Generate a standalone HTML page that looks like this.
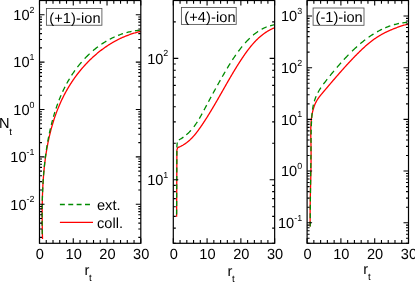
<!DOCTYPE html>
<html lang="en">
<head>
<meta charset="utf-8">
<title>N_t vs r_t</title>
<style>
html,body{margin:0;padding:0;background:#fff;}
body{width:415px;height:282px;overflow:hidden;font-family:"Liberation Sans",sans-serif;}
svg{display:block;}
</style>
</head>
<body>
<svg width="415" height="282" viewBox="0 0 415 282" font-family="'Liberation Sans', sans-serif" font-size="14.6" fill="#000">
<rect width="415" height="282" fill="#fff"/>
<g style="will-change:transform;text-rendering:geometricPrecision">
<g id="p1">
<path d="M42.50 239.00L42.48 238.20L42.47 237.39L42.45 236.59L42.43 235.79L42.42 234.99L42.40 234.19L42.38 233.39L42.37 232.59L42.35 231.79L42.34 230.99L42.33 230.19L42.31 229.38L42.30 228.58L42.29 227.78L42.28 226.98L42.26 226.18L42.25 225.38L42.24 224.58L42.23 223.78L42.23 222.98L42.22 222.17L42.21 221.37L42.20 220.57L42.20 219.77L42.19 218.97L42.19 218.17L42.18 217.37L42.18 216.57L42.18 215.77L42.18 214.96L42.18 214.16L42.18 213.36L42.18 212.56L42.18 211.76L42.18 210.96L42.19 210.16L42.19 209.36L42.20 208.55L42.21 207.75L42.22 206.95L42.22 206.15L42.23 205.35L42.25 204.55L42.26 203.75L42.27 202.95L42.29 202.15L42.30 201.35L42.32 200.54L42.34 199.74L42.36 198.94L42.38 198.14L42.40 197.34L42.42 196.54L42.45 195.74L42.47 194.94L42.50 194.14L42.53 193.34L42.56 192.54L42.59 191.74L42.62 190.94L42.66 190.13L42.69 189.33L42.73 188.53L42.77 187.73L42.81 186.93L42.85 186.13L42.89 185.33L42.94 184.53L42.98 183.73L43.03 182.93L43.08 182.13L43.13 181.33L43.18 180.54L43.24 179.74L43.29 178.94L43.35 178.14L43.41 177.34L43.47 176.54L43.53 175.74L43.60 174.94L43.66 174.14L43.73 173.35L43.80 172.55L43.87 171.75L43.95 170.95L44.02 170.15L44.10 169.36L44.18 168.56L44.26 167.76L44.35 166.97L44.43 166.17L44.52 165.37L44.61 164.58L44.70 163.78L44.80 162.99L44.89 162.19L44.99 161.39L45.09 160.60L45.19 159.81L45.30 159.01L45.41 158.22L45.52 157.42L45.63 156.63L45.74 155.84L45.86 155.04L45.98 154.25L46.10 153.46L46.22 152.67L46.35 151.88L46.47 151.09L46.60 150.30L46.74 149.51L46.87 148.72L47.01 147.93L47.15 147.14L47.30 146.35L47.44 145.56L47.59 144.78L47.74 143.99L47.90 143.20L48.05 142.42L48.21 141.63L48.37 140.85L48.54 140.06L48.71 139.28L48.88 138.50L49.05 137.71L49.22 136.93L49.40 136.15L49.59 135.37L49.77 134.59L49.96 133.81L50.15 133.03L50.34 132.26L50.54 131.48L50.74 130.70L50.94 129.93L51.15 129.16L51.35 128.38L51.57 127.61L51.78 126.84L52.00 126.07L52.22 125.30L52.45 124.53L52.67 123.76L52.90 122.99L53.14 122.23L53.38 121.46L53.62 120.70L53.86 119.93L54.11 119.17L54.36 118.41L54.61 117.65L54.87 116.89L55.13 116.14L55.40 115.38L55.67 114.62L55.94 113.87L56.21 113.12L56.49 112.37L56.77 111.62L57.06 110.87L57.35 110.12L57.64 109.38L57.94 108.63L58.24 107.89L58.54 107.15L58.85 106.41L59.16 105.67L59.48 104.93L59.80 104.20L60.12 103.46L60.44 102.73L60.77 102.00L61.11 101.27L61.44 100.55L61.79 99.82L62.13 99.10L62.48 98.38L62.83 97.66L63.19 96.94L63.55 96.23L63.91 95.51L64.28 94.80L64.65 94.09L65.03 93.38L65.41 92.68L65.79 91.97L66.18 91.27L66.57 90.57L66.97 89.88L67.37 89.18L67.77 88.49L68.18 87.80L68.59 87.11L69.00 86.43L69.42 85.74L69.84 85.06L70.27 84.38L70.70 83.71L71.13 83.03L71.57 82.36L72.01 81.70L72.46 81.03L72.91 80.37L73.36 79.70L73.82 79.05L74.28 78.39L74.74 77.74L75.21 77.09L75.68 76.44L76.15 75.79L76.63 75.15L77.12 74.51L77.60 73.88L78.09 73.24L78.59 72.61L79.08 71.98L79.59 71.36L80.09 70.74L80.60 70.12L81.11 69.50L81.63 68.89L82.15 68.28L82.67 67.67L83.20 67.07L83.73 66.47L84.26 65.87L84.80 65.28L85.34 64.69L85.88 64.10L86.43 63.51L86.99 62.93L87.54 62.36L88.10 61.78L88.66 61.21L89.23 60.65L89.80 60.08L90.37 59.52L90.95 58.97L91.53 58.42L92.12 57.87L92.70 57.32L93.29 56.78L93.89 56.25L94.49 55.71L95.09 55.18L95.69 54.66L96.30 54.14L96.91 53.62L97.53 53.11L98.15 52.60L98.77 52.10L99.40 51.60L100.03 51.10L100.66 50.61L101.30 50.12L101.93 49.64L102.58 49.16L103.22 48.69L103.87 48.22L104.53 47.75L105.18 47.29L105.84 46.84L106.50 46.39L107.17 45.94L107.84 45.50L108.51 45.06L109.18 44.63L109.86 44.20L110.54 43.78L111.23 43.37L111.92 42.96L112.61 42.55L113.30 42.15L114.00 41.75L114.70 41.36L115.40 40.98L116.11 40.60L116.81 40.23L117.53 39.86L118.24 39.49L118.96 39.14L119.68 38.78L120.40 38.44L121.12 38.10L121.85 37.76L122.58 37.43L123.32 37.11L124.05 36.79L124.79 36.48L125.53 36.18L126.27 35.88L127.02 35.59L127.77 35.30L128.52 35.02L129.27 34.74L130.03 34.47L130.78 34.21L131.54 33.96L132.30 33.71L133.07 33.46L133.83 33.23L134.60 33.00L135.37 32.77L136.14 32.56L136.91 32.35L137.69 32.14L138.46 31.94L139.24 31.75L140.02 31.57L140.80 31.39" fill="none" stroke="#ff0000" stroke-width="1.3" stroke-linejoin="round"/>
<path d="M42.25 234.15L42.24 233.32L42.23 232.50L42.22 231.67L42.21 230.85L42.20 230.02L42.19 229.20M42.15 225.78L42.15 224.95L42.14 224.13L42.14 223.30L42.13 222.48L42.13 221.65L42.12 220.83M42.12 217.41L42.12 216.58L42.12 215.76L42.12 214.93L42.13 214.11L42.13 213.28L42.14 212.46M42.17 209.04L42.18 208.21L42.19 207.39L42.20 206.56L42.21 205.74L42.23 204.91L42.24 204.09M42.31 200.67L42.33 199.84L42.36 199.02L42.38 198.19L42.40 197.37L42.43 196.54L42.45 195.72M42.58 192.30L42.61 191.47L42.64 190.65L42.68 189.82L42.72 189.00L42.76 188.17L42.80 187.35M42.98 183.93L43.02 183.10L43.07 182.28L43.12 181.45L43.17 180.63L43.23 179.80L43.28 178.98M43.53 175.56L43.59 174.72L43.66 173.88L43.73 173.04L43.79 172.20L43.87 171.36L43.94 170.52M44.27 166.99L44.35 166.15L44.44 165.31L44.53 164.46L44.61 163.62L44.71 162.78L44.80 161.94M45.20 158.51L45.30 157.68L45.41 156.85L45.52 156.03L45.62 155.20L45.74 154.37L45.85 153.54M46.34 150.11L46.47 149.28L46.60 148.45L46.72 147.62L46.86 146.79L46.99 145.97L47.13 145.14M47.72 141.71L47.87 140.88L48.02 140.05L48.18 139.22L48.34 138.39L48.50 137.56L48.66 136.74M49.36 133.30L49.54 132.47L49.72 131.65L49.90 130.82L50.09 129.99L50.27 129.16L50.47 128.34M51.29 124.90L51.49 124.09L51.70 123.28L51.91 122.47L52.12 121.66L52.33 120.85L52.55 120.04M53.46 116.76L53.69 115.95L53.93 115.15L54.17 114.34L54.41 113.54L54.65 112.74L54.90 111.94M55.99 108.57L56.27 107.74L56.55 106.91L56.84 106.09L57.13 105.26L57.42 104.44L57.72 103.62M59.03 100.16L59.36 99.32L59.70 98.48L60.04 97.64L60.39 96.81L60.74 95.97L61.09 95.14M62.64 91.68L63.02 90.86L63.41 90.05L63.80 89.24L64.20 88.43L64.60 87.62L65.01 86.82M66.73 83.56L67.17 82.75L67.62 81.94L68.08 81.14L68.54 80.34L69.01 79.55L69.48 78.76M71.59 75.39L72.05 74.68L72.52 73.97L73.00 73.26L73.48 72.56L73.96 71.87L74.45 71.17L74.94 70.48M77.48 67.07L77.97 66.44L78.47 65.81L78.97 65.18L79.48 64.56L79.99 63.94L80.50 63.33L81.02 62.72L81.54 62.11M84.66 58.66L85.25 58.03L85.86 57.40L86.46 56.78L87.08 56.17L87.69 55.56L88.32 54.95L88.94 54.35L89.58 53.75M93.02 50.67L93.72 50.09L94.41 49.51L95.12 48.93L95.83 48.37L96.54 47.81L97.26 47.25L97.99 46.71M101.40 44.27L102.09 43.81L102.79 43.35L103.49 42.89L104.20 42.45L104.91 42.00L105.62 41.57L106.34 41.14M109.75 39.24L110.56 38.82L111.37 38.40L112.18 38.00L113.00 37.61L113.82 37.22L114.65 36.84M118.01 35.43L118.83 35.11L119.66 34.80L120.48 34.49L121.32 34.20L122.15 33.92L122.99 33.64M126.51 32.61L127.34 32.39L128.17 32.18L129.01 31.98L129.84 31.79L130.68 31.61L131.52 31.44M134.93 30.85L135.75 30.73L136.57 30.62L137.39 30.52L138.21 30.42L139.04 30.34L139.86 30.27" fill="none" stroke="#008b00" stroke-width="1.3"/>
<path d="M39.5 243.3v-5.05M39.5 0.5v5.05M46.25 243.3v-3.3M46.25 0.5v3.3M53.01 243.3v-3.3M53.01 0.5v3.3M59.76 243.3v-3.3M59.76 0.5v3.3M66.51 243.3v-3.3M66.51 0.5v3.3M73.27 243.3v-5.05M73.27 0.5v5.05M80.02 243.3v-3.3M80.02 0.5v3.3M86.77 243.3v-3.3M86.77 0.5v3.3M93.53 243.3v-3.3M93.53 0.5v3.3M100.28 243.3v-3.3M100.28 0.5v3.3M107.03 243.3v-5.05M107.03 0.5v5.05M113.79 243.3v-3.3M113.79 0.5v3.3M120.54 243.3v-3.3M120.54 0.5v3.3M127.29 243.3v-3.3M127.29 0.5v3.3M134.05 243.3v-3.3M134.05 0.5v3.3M140.8 243.3v-5.05M140.8 0.5v5.05M39.5 237.38h2.5M140.8 237.38h-2.5M39.5 229.04h2.5M140.8 229.04h-2.5M39.5 223.12h2.5M140.8 223.12h-2.5M39.5 218.53h2.5M140.8 218.53h-2.5M39.5 214.78h2.5M140.8 214.78h-2.5M39.5 211.61h2.5M140.8 211.61h-2.5M39.5 208.86h2.5M140.8 208.86h-2.5M39.5 206.43h2.5M140.8 206.43h-2.5M39.5 204.27h5.0M140.8 204.27h-5.0M39.5 190h2.5M140.8 190h-2.5M39.5 181.66h2.5M140.8 181.66h-2.5M39.5 175.74h2.5M140.8 175.74h-2.5M39.5 171.15h2.5M140.8 171.15h-2.5M39.5 167.4h2.5M140.8 167.4h-2.5M39.5 164.23h2.5M140.8 164.23h-2.5M39.5 161.48h2.5M140.8 161.48h-2.5M39.5 159.06h2.5M140.8 159.06h-2.5M39.5 156.89h5.0M140.8 156.89h-5.0M39.5 142.63h2.5M140.8 142.63h-2.5M39.5 134.29h2.5M140.8 134.29h-2.5M39.5 128.37h2.5M140.8 128.37h-2.5M39.5 123.78h2.5M140.8 123.78h-2.5M39.5 120.02h2.5M140.8 120.02h-2.5M39.5 116.85h2.5M140.8 116.85h-2.5M39.5 114.11h2.5M140.8 114.11h-2.5M39.5 111.68h2.5M140.8 111.68h-2.5M39.5 109.51h5.0M140.8 109.51h-5.0M39.5 95.25h2.5M140.8 95.25h-2.5M39.5 86.91h2.5M140.8 86.91h-2.5M39.5 80.99h2.5M140.8 80.99h-2.5M39.5 76.4h2.5M140.8 76.4h-2.5M39.5 72.65h2.5M140.8 72.65h-2.5M39.5 69.48h2.5M140.8 69.48h-2.5M39.5 66.73h2.5M140.8 66.73h-2.5M39.5 64.31h2.5M140.8 64.31h-2.5M39.5 62.14h5.0M140.8 62.14h-5.0M39.5 47.88h2.5M140.8 47.88h-2.5M39.5 39.53h2.5M140.8 39.53h-2.5M39.5 33.61h2.5M140.8 33.61h-2.5M39.5 29.02h2.5M140.8 29.02h-2.5M39.5 25.27h2.5M140.8 25.27h-2.5M39.5 22.1h2.5M140.8 22.1h-2.5M39.5 19.35h2.5M140.8 19.35h-2.5M39.5 16.93h2.5M140.8 16.93h-2.5M39.5 14.76h5.0M140.8 14.76h-5.0M39.5 0.5h2.5M140.8 0.5h-2.5" stroke="#000" stroke-width="1.1" fill="none"/>
<rect x="39.5" y="0.5" width="101.3" height="242.8" fill="none" stroke="#000" stroke-width="1.2"/>
<text x="39.9" y="259.4" text-anchor="middle">0</text>
<text x="73.67" y="259.4" text-anchor="middle">10</text>
<text x="107.43" y="259.4" text-anchor="middle">20</text>
<text x="141.2" y="259.4" text-anchor="middle">30</text>
<text x="34.5" y="209.57" text-anchor="end">10<tspan font-size="8.9" dy="-7.3">-2</tspan></text>
<text x="34.5" y="162.19" text-anchor="end">10<tspan font-size="8.9" dy="-7.3">-1</tspan></text>
<text x="34.5" y="114.81" text-anchor="end">10<tspan font-size="8.9" dy="-7.3">0</tspan></text>
<text x="34.5" y="67.44" text-anchor="end">10<tspan font-size="8.9" dy="-7.3">1</tspan></text>
<text x="34.5" y="20.06" text-anchor="end">10<tspan font-size="8.9" dy="-7.3">2</tspan></text>
<text x="84.4" y="274.7">r<tspan font-size="9.8" dy="6.4" dx="-0.3">t</tspan></text>
<rect x="46.4" y="8.55" width="55.5" height="16.7" fill="#fff" stroke="#505050" stroke-width="0.85"/>
<text x="49.2" y="22.85" letter-spacing="0.1">(+1)-ion</text>
</g>
<g id="p2">
<path d="M176.60 216.80L176.60 216.00L176.61 215.19L176.61 214.39L176.61 213.59L176.62 212.79L176.62 211.98L176.63 211.18L176.63 210.38L176.63 209.58L176.64 208.77L176.64 207.97L176.64 207.17L176.65 206.37L176.65 205.56L176.65 204.76L176.66 203.96L176.66 203.16L176.66 202.35L176.67 201.55L176.67 200.75L176.68 199.95L176.68 199.14L176.68 198.34L176.69 197.54L176.69 196.74L176.69 195.93L176.70 195.13L176.70 194.33L176.70 193.53L176.71 192.72L176.71 191.92L176.72 191.12L176.72 190.32L176.72 189.51L176.73 188.71L176.73 187.91L176.73 187.11L176.74 186.30L176.74 185.50L176.74 184.70L176.75 183.90L176.75 183.09L176.75 182.29L176.76 181.49L176.76 180.68L176.77 179.88L176.77 179.08L176.77 178.28L176.78 177.47L176.78 176.67L176.78 175.87L176.79 175.07L176.79 174.26L176.79 173.46L176.80 172.66L176.80 171.86L176.81 171.05L176.81 170.25L176.81 169.45L176.82 168.65L176.82 167.84L176.82 167.04L176.83 166.24L176.83 165.44L176.83 164.63L176.84 163.83L176.84 163.03L176.85 162.23L176.85 161.42L176.85 160.62L176.86 159.82L176.86 159.02L176.86 158.21L176.87 157.41L176.87 156.61L176.87 155.81L176.88 155.00L176.88 154.20L176.88 153.40L176.89 152.60L176.89 151.79L176.90 150.99L176.90 150.19L177.08 149.41L177.31 148.64L177.55 147.88L178.17 147.47L178.91 147.15L179.64 146.82L180.37 146.48L181.09 146.12L181.79 145.74L182.50 145.35L183.19 144.95L183.87 144.53L184.55 144.10L185.22 143.65L185.87 143.19L186.52 142.72L187.16 142.23L187.79 141.73L188.41 141.22L189.02 140.70L189.62 140.17L190.21 139.63L190.79 139.07L191.37 138.51L191.93 137.94L192.48 137.36L193.03 136.77L193.57 136.17L194.09 135.57L194.62 134.96L195.13 134.35L195.64 133.72L196.14 133.10L196.64 132.46L197.12 131.83L197.61 131.19L198.09 130.54L198.56 129.90L199.03 129.24L199.49 128.59L199.96 127.93L200.42 127.28L200.87 126.62L201.33 125.95L201.78 125.29L202.23 124.63L202.67 123.96L203.12 123.29L203.56 122.62L204.00 121.95L204.44 121.28L204.88 120.61L205.32 119.93L205.75 119.26L206.18 118.58L206.62 117.91L207.04 117.23L207.47 116.55L207.90 115.87L208.32 115.19L208.74 114.51L209.17 113.82L209.59 113.14L210.00 112.45L210.42 111.77L210.84 111.08L211.25 110.39L211.67 109.71L212.08 109.02L212.49 108.33L212.90 107.64L213.31 106.95L213.72 106.26L214.12 105.56L214.53 104.87L214.93 104.18L215.34 103.49L215.74 102.79L216.14 102.10L216.55 101.40L216.95 100.71L217.35 100.01L217.75 99.32L218.15 98.62L218.55 97.93L218.94 97.23L219.34 96.53L219.74 95.83L220.14 95.14L220.54 94.44L220.93 93.74L221.33 93.05L221.73 92.35L222.12 91.65L222.52 90.95L222.92 90.25L223.31 89.56L223.71 88.86L224.11 88.16L224.50 87.46L224.90 86.77L225.30 86.07L225.70 85.37L226.09 84.68L226.49 83.98L226.89 83.28L227.29 82.59L227.69 81.89L228.09 81.20L228.49 80.50L228.89 79.81L229.30 79.11L229.70 78.42L230.10 77.72L230.51 77.03L230.92 76.34L231.32 75.65L231.73 74.96L232.14 74.26L232.55 73.57L232.96 72.88L233.37 72.20L233.78 71.51L234.20 70.82L234.61 70.13L235.03 69.45L235.45 68.76L235.87 68.08L236.29 67.39L236.71 66.71L237.13 66.03L237.56 65.35L237.99 64.67L238.41 63.99L238.84 63.31L239.28 62.64L239.71 61.96L240.14 61.29L240.58 60.61L241.02 59.94L241.46 59.27L241.90 58.60L242.35 57.93L242.79 57.27L243.24 56.60L243.69 55.94L244.15 55.28L244.61 54.62L245.07 53.96L245.53 53.30L246.00 52.65L246.47 52.00L246.94 51.35L247.42 50.71L247.90 50.07L248.39 49.43L248.87 48.79L249.37 48.16L249.87 47.53L250.37 46.90L250.88 46.28L251.39 45.67L251.91 45.05L252.43 44.44L252.96 43.84L253.49 43.24L254.03 42.65L254.58 42.06L255.13 41.47L255.68 40.89L256.25 40.32L256.82 39.76L257.39 39.20L257.97 38.64L258.56 38.10L259.15 37.56L259.76 37.02L260.36 36.50L260.98 35.98L261.60 35.47L262.23 34.97L262.86 34.48L263.50 34.00L264.15 33.53L264.80 33.06L265.47 32.61L266.13 32.16L266.81 31.73L267.49 31.31L268.18 30.89L268.87 30.49L269.57 30.10L270.28 29.72L271.00 29.35L271.71 29.00L272.44 28.66L273.17 28.32L273.91 28.00L274.65 27.70" fill="none" stroke="#ff0000" stroke-width="1.3" stroke-linejoin="round"/>
<path d="M176.61 214.41L176.61 213.59L176.61 212.76L176.62 211.94L176.62 211.11L176.62 210.29L176.63 209.46M176.64 206.04L176.64 205.22L176.64 204.39L176.65 203.57L176.65 202.74L176.65 201.92L176.66 201.09M176.67 197.67L176.67 196.85L176.67 196.02L176.68 195.20L176.68 194.37L176.68 193.55L176.69 192.72M176.70 189.30L176.70 188.48L176.70 187.65L176.71 186.83L176.71 186.00L176.71 185.18L176.72 184.35M176.73 180.93L176.73 180.11L176.73 179.28L176.74 178.46L176.74 177.63L176.74 176.81L176.75 175.98M176.76 172.56L176.76 171.74L176.76 170.91L176.77 170.09L176.77 169.26L176.77 168.44L176.78 167.61M176.79 164.19L176.79 163.37L176.79 162.54L176.80 161.72L176.80 160.89L176.80 160.07L176.81 159.24M176.82 155.82L176.82 155.00L176.82 154.17L176.83 153.35L176.83 152.52L176.83 151.70L176.84 150.87M176.85 147.45L176.88 146.63L176.95 145.81L177.02 144.99L177.09 144.16L177.16 143.34L177.24 142.52M178.88 139.88L179.67 139.46L180.44 139.03L181.20 138.58L181.96 138.11L182.70 137.62L183.43 137.12M186.31 134.88L186.92 134.36L187.52 133.82L188.11 133.27L188.68 132.71L189.25 132.15L189.81 131.57L190.36 130.98L190.90 130.39M193.87 126.77L194.39 126.08L194.90 125.38L195.40 124.67L195.89 123.96L196.38 123.25L196.85 122.53L197.32 121.80M199.32 118.55L199.73 117.85L200.13 117.16L200.53 116.46L200.93 115.76L201.32 115.06L201.71 114.36L202.10 113.65M203.99 110.14L204.37 109.43L204.75 108.71L205.13 108.00L205.51 107.29L205.89 106.58L206.27 105.86L206.65 105.15M208.46 101.77L208.89 100.95L209.33 100.13L209.77 99.31L210.22 98.49L210.66 97.68L211.10 96.86M212.95 93.46L213.33 92.75L213.72 92.05L214.10 91.34L214.49 90.64L214.87 89.94L215.26 89.23L215.65 88.53M217.54 85.13L217.93 84.42L218.33 83.71L218.73 83.00L219.12 82.30L219.52 81.59L219.92 80.88L220.32 80.17M222.29 76.73L222.70 76.02L223.11 75.30L223.52 74.59L223.93 73.88L224.34 73.17L224.75 72.46L225.17 71.75M227.20 68.31L227.63 67.60L228.06 66.88L228.49 66.17L228.92 65.46L229.36 64.75L229.80 64.04L230.24 63.33M232.43 59.89L232.90 59.17L233.38 58.45L233.85 57.74L234.33 57.03L234.81 56.32L235.30 55.61L235.79 54.90M238.27 51.46L238.81 50.74L239.35 50.02L239.90 49.30L240.46 48.59L241.02 47.88L241.59 47.18L242.16 46.48M245.11 43.03L245.68 42.41L246.25 41.79L246.83 41.17L247.41 40.56L248.00 39.95L248.59 39.35L249.19 38.75L249.79 38.17M253.11 35.17L253.79 34.60L254.48 34.04L255.19 33.49L255.89 32.95L256.61 32.42L257.34 31.91L258.08 31.41M261.63 29.25L262.45 28.81L263.27 28.39L264.11 27.99L264.95 27.61L265.80 27.25L266.66 26.91M270.07 25.78L270.96 25.54L271.87 25.32L272.77 25.13L273.69 24.95L274.60 24.80" fill="none" stroke="#008b00" stroke-width="1.3"/>
<path d="M173.3 243.3v-5.05M173.3 0.5v5.05M180.06 243.3v-3.3M180.06 0.5v3.3M186.81 243.3v-3.3M186.81 0.5v3.3M193.57 243.3v-3.3M193.57 0.5v3.3M200.33 243.3v-3.3M200.33 0.5v3.3M207.08 243.3v-5.05M207.08 0.5v5.05M213.84 243.3v-3.3M213.84 0.5v3.3M220.6 243.3v-3.3M220.6 0.5v3.3M227.35 243.3v-3.3M227.35 0.5v3.3M234.11 243.3v-3.3M234.11 0.5v3.3M240.87 243.3v-5.05M240.87 0.5v5.05M247.62 243.3v-3.3M247.62 0.5v3.3M254.38 243.3v-3.3M254.38 0.5v3.3M261.14 243.3v-3.3M261.14 0.5v3.3M267.89 243.3v-3.3M267.89 0.5v3.3M274.65 243.3v-5.05M274.65 0.5v5.05M173.3 243.3h2.5M274.65 243.3h-2.5M173.3 228.13h2.5M274.65 228.13h-2.5M173.3 216.37h2.5M274.65 216.37h-2.5M173.3 206.75h2.5M274.65 206.75h-2.5M173.3 198.63h2.5M274.65 198.63h-2.5M173.3 191.59h2.5M274.65 191.59h-2.5M173.3 185.38h2.5M274.65 185.38h-2.5M173.3 179.82h5.0M274.65 179.82h-5.0M173.3 143.28h2.5M274.65 143.28h-2.5M173.3 121.9h2.5M274.65 121.9h-2.5M173.3 106.73h2.5M274.65 106.73h-2.5M173.3 94.97h2.5M274.65 94.97h-2.5M173.3 85.35h2.5M274.65 85.35h-2.5M173.3 77.23h2.5M274.65 77.23h-2.5M173.3 70.19h2.5M274.65 70.19h-2.5M173.3 63.98h2.5M274.65 63.98h-2.5M173.3 58.42h5.0M274.65 58.42h-5.0M173.3 21.88h2.5M274.65 21.88h-2.5M173.3 0.5h2.5M274.65 0.5h-2.5" stroke="#000" stroke-width="1.1" fill="none"/>
<rect x="173.3" y="0.5" width="101.35" height="242.8" fill="none" stroke="#000" stroke-width="1.2"/>
<text x="173.7" y="259.4" text-anchor="middle">0</text>
<text x="207.48" y="259.4" text-anchor="middle">10</text>
<text x="241.27" y="259.4" text-anchor="middle">20</text>
<text x="275.05" y="259.4" text-anchor="middle">30</text>
<text x="168.3" y="185.12" text-anchor="end">10<tspan font-size="8.9" dy="-7.3">1</tspan></text>
<text x="168.3" y="63.72" text-anchor="end">10<tspan font-size="8.9" dy="-7.3">2</tspan></text>
<text x="227.5" y="275.9">r<tspan font-size="9.8" dy="6.4" dx="-0.3">t</tspan></text>
<rect x="181.4" y="7.5" width="54.8" height="16.9" fill="#fff" stroke="#505050" stroke-width="0.85"/>
<text x="184.2" y="21.8" letter-spacing="0.1">(+4)-ion</text>
</g>
<g id="p3">
<path d="M310.20 226.50L310.19 225.70L310.17 224.90L310.16 224.10L310.15 223.30L310.14 222.50L310.13 221.70L310.12 220.90L310.12 220.10L310.11 219.30L310.11 218.50L310.10 217.70L310.10 216.90L310.10 216.10L310.10 215.30L310.10 214.50L310.10 213.70L310.11 212.90L310.11 212.10L310.12 211.29L310.12 210.49L310.13 209.69L310.14 208.89L310.14 208.09L310.15 207.29L310.16 206.49L310.17 205.69L310.18 204.89L310.19 204.09L310.21 203.29L310.22 202.49L310.23 201.69L310.25 200.89L310.26 200.09L310.28 199.29L310.29 198.49L310.31 197.69L310.33 196.89L310.34 196.09L310.36 195.29L310.38 194.49L310.40 193.69L310.41 192.89L310.43 192.09L310.45 191.29L310.47 190.49L310.49 189.69L310.51 188.89L310.53 188.09L310.55 187.29L310.57 186.49L310.58 185.69L310.60 184.89L310.62 184.09L310.64 183.29L310.66 182.49L310.68 181.69L310.70 180.89L310.72 180.09L310.74 179.29L310.76 178.49L310.77 177.69L310.79 176.89L310.81 176.09L310.83 175.29L310.84 174.49L310.86 173.69L310.88 172.89L310.89 172.09L310.91 171.29L310.92 170.49L310.94 169.69L310.95 168.89L310.96 168.09L310.98 167.29L310.99 166.49L311.00 165.69L311.01 164.89L311.02 164.09L311.03 163.28L311.04 162.48L311.05 161.68L311.05 160.88L311.06 160.08L311.06 159.28L311.07 158.48L311.07 157.68L311.07 156.88L311.08 156.08L311.08 155.28L311.08 154.48L311.07 153.68L311.07 152.88L311.07 152.08L311.06 151.28L311.06 150.48L311.05 149.68L311.04 148.88L311.03 148.08L311.02 147.28L311.01 146.48L311.00 145.68L310.98 144.88L310.97 144.08L310.95 143.28L310.93 142.48L310.92 141.68L310.90 140.88L310.88 140.08L310.86 139.28L310.85 138.48L310.83 137.68L310.81 136.88L310.80 136.08L310.79 135.28L310.78 134.48L310.77 133.68L310.77 132.88L310.77 132.08L310.77 131.27L310.77 130.47L310.78 129.67L310.79 128.87L310.81 128.07L310.83 127.27L310.86 126.47L310.89 125.67L310.92 124.87L310.97 124.08L311.01 123.28L311.07 122.48L311.13 121.68L311.20 120.88L311.27 120.09L311.36 119.29L311.45 118.50L311.55 117.70L311.66 116.91L311.78 116.12L311.90 115.33L312.04 114.54L312.19 113.75L312.35 112.97L312.52 112.18L312.70 111.40L312.89 110.63L313.09 109.85L313.31 109.08L313.53 108.32L313.77 107.55L314.03 106.79L314.29 106.04L314.58 105.29L314.87 104.55L315.19 103.81L315.52 103.08L315.87 102.36L316.23 101.65L316.62 100.95L317.02 100.26L317.44 99.58L317.88 98.91L318.33 98.25L318.80 97.60L319.27 96.95L319.76 96.31L320.25 95.68L320.75 95.06L321.26 94.44L321.77 93.82L322.28 93.21L322.80 92.60L323.32 91.99L323.84 91.38L324.35 90.77L324.87 90.16L325.39 89.55L325.91 88.94L326.42 88.33L326.94 87.72L327.46 87.11L327.98 86.50L328.50 85.89L329.02 85.28L329.53 84.67L330.05 84.06L330.57 83.45L331.09 82.84L331.61 82.23L332.13 81.63L332.65 81.02L333.17 80.41L333.70 79.80L334.22 79.20L334.74 78.59L335.26 77.98L335.79 77.38L336.31 76.77L336.84 76.17L337.36 75.57L337.89 74.96L338.41 74.36L338.94 73.76L339.47 73.16L340.00 72.55L340.53 71.95L341.06 71.35L341.59 70.76L342.12 70.16L342.65 69.56L343.18 68.96L343.72 68.37L344.25 67.77L344.79 67.18L345.33 66.58L345.87 65.99L346.40 65.40L346.94 64.81L347.49 64.22L348.03 63.63L348.57 63.04L349.11 62.46L349.66 61.87L350.21 61.29L350.75 60.70L351.30 60.12L351.85 59.54L352.41 58.96L352.96 58.38L353.51 57.80L354.07 57.23L354.62 56.65L355.18 56.08L355.74 55.51L356.30 54.94L356.86 54.37L357.43 53.80L357.99 53.23L358.56 52.67L359.13 52.10L359.70 51.54L360.27 50.99L360.85 50.43L361.43 49.88L362.01 49.32L362.59 48.78L363.18 48.23L363.77 47.69L364.36 47.15L364.95 46.61L365.55 46.08L366.15 45.55L366.76 45.03L367.36 44.51L367.98 43.99L368.59 43.48L369.21 42.97L369.83 42.47L370.46 41.97L371.09 41.48L371.72 40.99L372.36 40.51L373.00 40.03L373.65 39.56L374.30 39.09L374.96 38.63L375.62 38.18L376.28 37.73L376.95 37.29L377.62 36.86L378.30 36.43L378.98 36.01L379.67 35.60L380.36 35.20L381.05 34.80L381.75 34.40L382.45 34.02L383.15 33.64L383.86 33.26L384.57 32.89L385.28 32.53L386.00 32.18L386.72 31.83L387.44 31.48L388.17 31.14L388.90 30.81L389.63 30.48L390.36 30.16L391.09 29.85L391.83 29.54L392.57 29.23L393.31 28.93L394.06 28.64L394.80 28.35L395.55 28.06L396.30 27.78L397.05 27.50L397.81 27.23L398.56 26.97L399.32 26.71L400.07 26.45L400.83 26.20L401.59 25.95L402.36 25.70L403.12 25.46L403.89 25.23L404.65 25.00L405.42 24.77L406.19 24.55L406.96 24.33L407.73 24.11L408.50 23.90" fill="none" stroke="#ff0000" stroke-width="1.3" stroke-linejoin="round"/>
<path d="M310.20 226.50L310.20 225.68L310.20 224.87L310.21 224.05L310.21 223.23L310.21 222.42L310.22 221.60M310.23 218.18L310.24 217.35L310.24 216.53L310.25 215.70L310.25 214.88L310.26 214.05L310.26 213.23M310.29 209.81L310.29 208.98L310.30 208.16L310.31 207.33L310.32 206.51L310.32 205.68L310.33 204.86M310.36 201.44L310.37 200.61L310.38 199.79L310.39 198.96L310.40 198.14L310.41 197.31L310.42 196.49M310.46 193.07L310.46 192.24L310.47 191.42L310.48 190.59L310.49 189.77L310.50 188.94L310.51 188.12M310.56 184.70L310.57 183.87L310.58 183.05L310.59 182.22L310.60 181.40L310.61 180.57L310.62 179.75M310.66 176.33L310.67 175.50L310.68 174.68L310.69 173.85L310.70 173.03L310.71 172.20L310.72 171.38M310.77 167.96L310.78 167.13L310.79 166.31L310.80 165.48L310.81 164.66L310.82 163.83L310.83 163.01M310.86 159.59L310.87 158.76L310.88 157.94L310.89 157.11L310.90 156.29L310.91 155.46L310.92 154.64M310.95 151.22L310.96 150.40L310.97 149.57L310.97 148.75L310.98 147.93L310.99 147.10L311.00 146.28M311.02 142.88L311.03 142.05L311.03 141.23L311.04 140.41L311.05 139.59L311.06 138.77L311.06 137.95M311.11 134.54L311.12 133.72L311.13 132.90L311.15 132.08L311.17 131.26L311.19 130.44L311.21 129.61M311.31 126.21L311.34 125.39L311.37 124.57L311.41 123.75L311.45 122.92L311.49 122.10L311.53 121.28M311.74 117.88L311.80 117.06L311.86 116.23L311.93 115.41L312.00 114.59L312.07 113.77L312.15 112.95M312.54 109.55L312.66 108.72L312.78 107.89L312.92 107.07L313.07 106.25L313.24 105.43L313.42 104.62M314.33 101.21L314.59 100.36L314.88 99.52L315.18 98.68L315.49 97.85L315.82 97.03L316.17 96.21M317.85 92.69L318.26 91.95L318.67 91.22L319.09 90.49L319.53 89.77L319.98 89.05L320.44 88.34L320.91 87.64M323.40 84.18L323.94 83.46L324.48 82.75L325.02 82.04L325.57 81.33L326.12 80.63L326.67 79.92L327.23 79.22M329.93 75.83L330.50 75.12L331.08 74.42L331.65 73.71L332.23 73.01L332.81 72.31L333.39 71.61L333.98 70.92M336.86 67.52L337.45 66.84L338.04 66.16L338.63 65.49L339.23 64.81L339.82 64.14L340.42 63.46L341.02 62.79M343.87 59.65L344.44 59.04L345.01 58.42L345.58 57.81L346.16 57.21L346.73 56.60L347.31 55.99L347.89 55.39L348.48 54.79M352.02 51.25L352.64 50.65L353.25 50.06L353.87 49.47L354.49 48.89L355.12 48.31L355.75 47.73L356.38 47.15L357.01 46.58M360.34 43.68L361.02 43.11L361.71 42.54L362.40 41.97L363.10 41.41L363.80 40.86L364.50 40.31L365.21 39.76M368.61 37.25L369.32 36.76L370.02 36.27L370.73 35.79L371.44 35.31L372.16 34.85L372.88 34.38L373.60 33.93M377.09 31.85L377.89 31.40L378.71 30.96L379.52 30.53L380.34 30.10L381.17 29.69L382.00 29.28M385.30 27.78L386.12 27.44L386.95 27.10L387.78 26.77L388.62 26.46L389.45 26.15L390.30 25.86M393.90 24.73L394.73 24.50L395.57 24.28L396.41 24.07L397.25 23.87L398.09 23.68L398.94 23.50M402.31 22.91L403.13 22.80L403.95 22.69L404.76 22.60L405.58 22.51L406.41 22.44L407.23 22.37" fill="none" stroke="#008b00" stroke-width="1.3"/>
<path d="M307.1 243.3v-5.05M307.1 0.5v5.05M313.86 243.3v-3.3M313.86 0.5v3.3M320.62 243.3v-3.3M320.62 0.5v3.3M327.38 243.3v-3.3M327.38 0.5v3.3M334.14 243.3v-3.3M334.14 0.5v3.3M340.9 243.3v-5.05M340.9 0.5v5.05M347.66 243.3v-3.3M347.66 0.5v3.3M354.42 243.3v-3.3M354.42 0.5v3.3M361.18 243.3v-3.3M361.18 0.5v3.3M367.94 243.3v-3.3M367.94 0.5v3.3M374.7 243.3v-5.05M374.7 0.5v5.05M381.46 243.3v-3.3M381.46 0.5v3.3M388.22 243.3v-3.3M388.22 0.5v3.3M394.98 243.3v-3.3M394.98 0.5v3.3M401.74 243.3v-3.3M401.74 0.5v3.3M408.5 243.3v-5.05M408.5 0.5v5.05M307.1 243.3h2.5M408.5 243.3h-2.5M307.1 238.29h2.5M408.5 238.29h-2.5M307.1 234.2h2.5M408.5 234.2h-2.5M307.1 230.74h2.5M408.5 230.74h-2.5M307.1 227.75h2.5M408.5 227.75h-2.5M307.1 225.1h2.5M408.5 225.1h-2.5M307.1 222.74h5.0M408.5 222.74h-5.0M307.1 207.18h2.5M408.5 207.18h-2.5M307.1 198.08h2.5M408.5 198.08h-2.5M307.1 191.63h2.5M408.5 191.63h-2.5M307.1 186.62h2.5M408.5 186.62h-2.5M307.1 182.53h2.5M408.5 182.53h-2.5M307.1 179.07h2.5M408.5 179.07h-2.5M307.1 176.07h2.5M408.5 176.07h-2.5M307.1 173.43h2.5M408.5 173.43h-2.5M307.1 171.07h5.0M408.5 171.07h-5.0M307.1 155.51h2.5M408.5 155.51h-2.5M307.1 146.41h2.5M408.5 146.41h-2.5M307.1 139.96h2.5M408.5 139.96h-2.5M307.1 134.95h2.5M408.5 134.95h-2.5M307.1 130.86h2.5M408.5 130.86h-2.5M307.1 127.4h2.5M408.5 127.4h-2.5M307.1 124.4h2.5M408.5 124.4h-2.5M307.1 121.76h2.5M408.5 121.76h-2.5M307.1 119.4h5.0M408.5 119.4h-5.0M307.1 103.84h2.5M408.5 103.84h-2.5M307.1 94.74h2.5M408.5 94.74h-2.5M307.1 88.29h2.5M408.5 88.29h-2.5M307.1 83.28h2.5M408.5 83.28h-2.5M307.1 79.19h2.5M408.5 79.19h-2.5M307.1 75.73h2.5M408.5 75.73h-2.5M307.1 72.73h2.5M408.5 72.73h-2.5M307.1 70.09h2.5M408.5 70.09h-2.5M307.1 67.73h5.0M408.5 67.73h-5.0M307.1 52.17h2.5M408.5 52.17h-2.5M307.1 43.07h2.5M408.5 43.07h-2.5M307.1 36.62h2.5M408.5 36.62h-2.5M307.1 31.61h2.5M408.5 31.61h-2.5M307.1 27.52h2.5M408.5 27.52h-2.5M307.1 24.06h2.5M408.5 24.06h-2.5M307.1 21.06h2.5M408.5 21.06h-2.5M307.1 18.42h2.5M408.5 18.42h-2.5M307.1 16.05h5.0M408.5 16.05h-5.0M307.1 0.5h2.5M408.5 0.5h-2.5" stroke="#000" stroke-width="1.1" fill="none"/>
<rect x="307.1" y="0.5" width="101.4" height="242.8" fill="none" stroke="#000" stroke-width="1.2"/>
<text x="307.5" y="259.4" text-anchor="middle">0</text>
<text x="341.3" y="259.4" text-anchor="middle">10</text>
<text x="375.1" y="259.4" text-anchor="middle">20</text>
<text x="408.9" y="259.4" text-anchor="middle">30</text>
<text x="302.1" y="228.04" text-anchor="end">10<tspan font-size="8.9" dy="-7.3">-1</tspan></text>
<text x="302.1" y="176.37" text-anchor="end">10<tspan font-size="8.9" dy="-7.3">0</tspan></text>
<text x="302.1" y="124.7" text-anchor="end">10<tspan font-size="8.9" dy="-7.3">1</tspan></text>
<text x="302.1" y="73.03" text-anchor="end">10<tspan font-size="8.9" dy="-7.3">2</tspan></text>
<text x="302.1" y="21.35" text-anchor="end">10<tspan font-size="8.9" dy="-7.3">3</tspan></text>
<text x="363.3" y="274">r<tspan font-size="9.8" dy="6.4" dx="-0.3">t</tspan></text>
<rect x="313.1" y="8" width="50.9" height="17.3" fill="#fff" stroke="#505050" stroke-width="0.85"/>
<text x="315.6" y="22.1" letter-spacing="0">(-1)-ion</text>
</g>
<text x="-1.1" y="128.2">N<tspan font-size="9.8" dy="6.7" dx="-0.2">t</tspan></text>
<path d="M59.9 204.5H90" stroke="#008b00" stroke-width="1.3" stroke-dasharray="4.95 3.42" fill="none"/>
<path d="M59.9 222.4H93" stroke="#ff0000" stroke-width="1.3" fill="none"/>
<text x="97.0" y="209.5">ext.</text>
<text x="97.0" y="227.6">coll.</text>
</g>
</svg>
</body>
</html>
